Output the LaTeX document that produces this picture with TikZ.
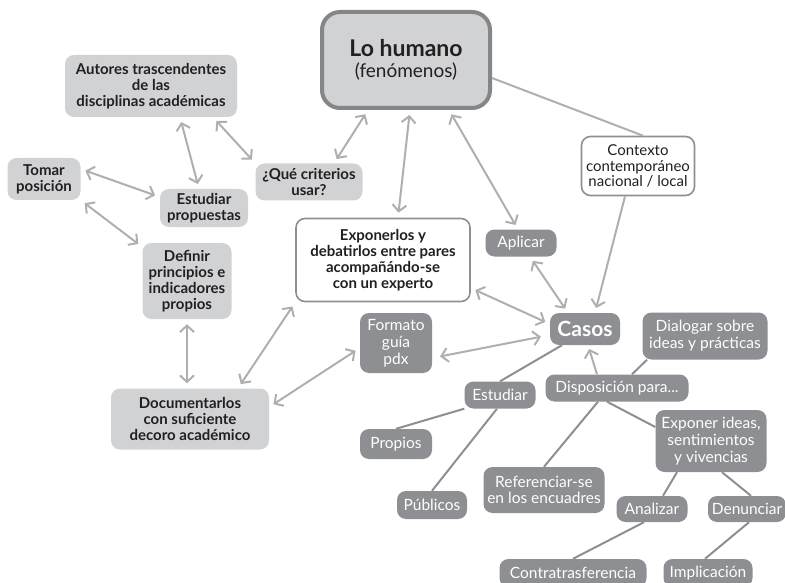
\documentclass[tikz,border=0pt]{standalone}
\usepackage{fontspec}
\setmainfont{Lato}
\usetikzlibrary{arrows.meta,backgrounds,calc}
\definecolor{lightg}{HTML}{D1D2D4}
\definecolor{darkg}{HTML}{8E8F92}
\definecolor{arrg}{HTML}{AEAFB1}
\definecolor{bord}{HTML}{858688}
\definecolor{txt}{HTML}{231F20}
\tikzset{
  box/.style={rounded corners=9pt, align=center, inner sep=0pt},
  lightbox/.style={box, fill=lightg, text=txt, font=\fontsize{15}{15.8}\selectfont\bfseries},
  darkbox/.style={box, fill=darkg, text=white, font=\fontsize{15.5}{16.8}\selectfont},
  whitebox/.style={box, fill=white, draw=darkg, line width=1.6pt, text=txt, font=\fontsize{15}{15.8}\selectfont},
  twoway/.style={draw=arrg, line width=2pt, {Straight Barb[length=6.5pt,width=14pt,line width=2pt]}-{Straight Barb[length=6.5pt,width=14pt,line width=2pt]}, shorten <=5pt, shorten >=5pt},
  oneway/.style={draw=arrg, line width=2pt, -{Straight Barb[length=6.5pt,width=14pt,line width=2pt]}, shorten >=5pt},
  plainlink/.style={draw=arrg, line width=2pt},
  darklink/.style={draw=darkg, line width=2pt},
  sz/.style 2 args={minimum width=#1pt, minimum height=#2pt}
}
\begin{document}
\begin{tikzpicture}[x=1pt,y=-1pt]
\useasboundingbox (0,0) rectangle (785,583);
% nodes
\node[box, fill=lightg, draw=bord, line width=4pt, rounded corners=18pt, text=txt, sz={168}{96}] (lh) at (406,60)
  {{\fontsize{23}{26}\selectfont\bfseries Lo humano}\\[5pt]{\fontsize{19}{22}\selectfont (fenómenos)}};
\node[lightbox, sz={172}{62}] (aut) at (151,86) {Autores trascendentes\\de las\\disciplinas académicas};
\node[lightbox, sz={73}{42}] (tp) at (44,179) {Tomar\\posición};
\node[lightbox, sz={88}{38}] (sp) at (204,208) {Estudiar\\propuestas};
\node[lightbox, sz={107}{37}] (qc) at (309,182) {¿Qué criterios\\usar?};
\node[lightbox, sz={89}{76}] (def) at (187,281) {Definir\\principios e\\indicadores\\propios};
\node[whitebox, sz={174}{83}, font=\fontsize{15}{15.8}\selectfont\bfseries] (exp) at (383,260) {Exponerlos y\\debatirlos entre pares\\acompañándo-se\\con un experto};
\node[whitebox, sz={113}{59}] (ctx) at (638,166) {Contexto\\contemporáneo\\nacional / local};
\node[darkbox, sz={71}{27}] (apl) at (521,243) {Aplicar};
\node[darkbox, sz={70}{32}] (cas) at (585,329) {\fontsize{21}{24}\selectfont\bfseries Casos};
\node[darkbox, sz={72}{60}] (fmt) at (396,343) {Formato\\guía\\pdx};
\node[lightbox, sz={158}{61}] (doc) at (190,419) {Documentarlos\\con suficiente\\decoro académico};
\node[darkbox, sz={125}{47}] (dlg) at (705,336) {Dialogar sobre\\ideas y prácticas};
\node[darkbox, sz={143}{27}] (disp) at (617,388) {Disposición para...};
\node[darkbox, sz={71}{27}] (est) at (500,395) {Estudiar};
\node[darkbox, sz={72}{30}] (prop) at (396,444) {Propios};
\node[darkbox, sz={70}{28}] (pub) at (432,505) {Públicos};
\node[darkbox, sz={121}{46}] (ref) at (544,490) {Referenciar-se\\en los encuadres};
\node[darkbox, sz={111}{62}] (exi) at (711,441) {Exponer ideas,\\sentimientos\\y vivencias};
\node[darkbox, sz={71}{26}] (ana) at (652,509) {Analizar};
\node[darkbox, sz={78}{26}] (den) at (747,509) {Denunciar};
\node[darkbox, sz={147}{28}] (con) at (573,573) {Contratrasferencia};
\node[darkbox, sz={89}{28}] (imp) at (708,573) {Implicación};
% light connectors
\draw[twoway] ([xshift=29pt]aut.south) -- ([xshift=-5pt]sp.north);
\draw[twoway] ([xshift=62pt]aut.south) -- (qc.north west);
\draw[twoway] ([yshift=10pt]tp.east) -- ([yshift=11pt]sp.west);
\draw[twoway] (tp.south east) -- ([yshift=34pt]def.west);
\draw[twoway] ([xshift=-38pt]lh.south) -- ([xshift=25pt]qc.north);
\draw[twoway] ([xshift=4pt]lh.south) -- ([xshift=15pt]exp.north);
\draw[twoway] ([xshift=43pt]lh.south) -- ([xshift=-3pt]apl.north);
\draw[twoway] ([xshift=9pt]apl.south) -- ([xshift=-17pt]cas.north);
\draw[oneway] ([xshift=-13pt]ctx.south) -- ([xshift=10pt]cas.north);
\draw[plainlink] ([yshift=-18pt]lh.east) -- ([xshift=5pt]ctx.north);
\draw[twoway] ([yshift=-28pt]exp.east) -- ([yshift=5pt]cas.west);
\draw[twoway, shorten <=8pt, shorten >=9pt] ([yshift=-15pt]fmt.east) -- ([yshift=-6pt]cas.west);
\draw[twoway] (def.south) -- (def.south |- doc.north);
\draw[twoway] ([xshift=48pt]doc.north) -- (exp.south west);
\draw[twoway] ([yshift=12pt]doc.east) -- ([yshift=-5pt]fmt.west);
\draw[oneway, shorten >=4pt] ([xshift=-20pt]disp.north) -- ([xshift=3pt]cas.south);
% dark connectors
\begin{scope}[on background layer]
\draw[darklink] ([xshift=-23pt]cas.south) -- (est.north);
\draw[darklink] (est.south west) -- (prop.north);
\draw[darklink] ([xshift=-3pt]est.south) -- (pub.north);
\draw[darklink] ([xshift=15pt]disp.north) -- ([xshift=-58pt]dlg.south);
\draw[darklink] ([xshift=-19pt]disp.south) -- (ref.north);
\draw[darklink] ([xshift=-10pt]disp.south) -- ([yshift=14pt]exi.west);
\draw[darklink] ([xshift=-34pt]exi.south) -- ([xshift=11pt]ana.north);
\draw[darklink] ([xshift=11pt]exi.south) -- ([xshift=4pt]den.north);
\draw[darklink] ([xshift=-8pt]ana.south) -- (con.north);
\draw[darklink] ([xshift=2pt]den.south) -- ([xshift=-3pt]imp.north);
\end{scope}
\end{tikzpicture}
\end{document}
